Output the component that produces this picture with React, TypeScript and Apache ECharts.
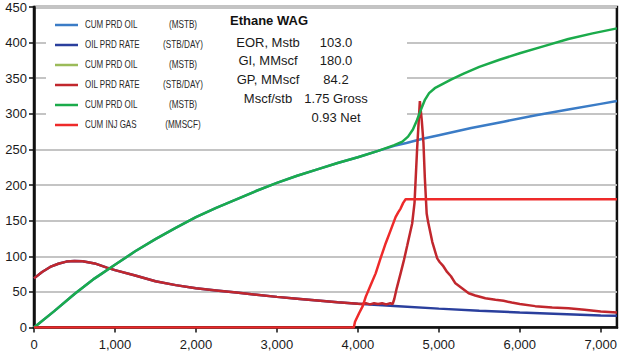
import React, { useEffect, useRef } from "react";
import * as echarts from "echarts";

type Pt = [number, number];

// Base case cumulative oil (MSTB) vs days
const cumOilBase: Pt[] = [
  [0, 0], [250, 23], [500, 47], [750, 69], [1000, 88], [1250, 107], [1500, 124], [1750, 140],
  [2000, 155], [2250, 168], [2500, 180], [2750, 192], [3000, 203], [3250, 213], [3500, 222],
  [3750, 231], [4000, 239], [4250, 248], [4450, 255], [4600, 259], [4800, 265], [5000, 270],
  [5400, 280], [5800, 289], [6200, 298], [6600, 306], [7000, 314], [7200, 318],
];

// Base case oil rate (STB/DAY)
const oilRateBase: Pt[] = [
  [0, 69], [100, 78], [200, 85], [300, 89.5], [400, 92.5], [500, 93.5], [600, 93], [750, 90],
  [900, 84], [1000, 80.5], [1250, 73], [1500, 65], [1750, 59.5], [2000, 55], [2250, 52],
  [2500, 49], [2750, 46], [3000, 43], [3250, 40.5], [3500, 38], [3750, 35.5], [4000, 33.5],
  [4500, 30], [5000, 26.5], [5500, 23.5], [6000, 21], [6500, 19], [7000, 17], [7200, 16.5],
];

// Hidden (overlapped) cumulative oil case
const cumOilAlt: Pt[] = [];

// Ethane WAG oil rate (STB/DAY)
const oilRateWag: Pt[] = [
  [0, 69], [100, 78], [200, 85], [300, 89.5], [400, 92.5], [500, 93.5], [600, 93], [750, 90],
  [900, 84], [1000, 80.5], [1250, 73], [1500, 65], [1750, 59.5], [2000, 55], [2250, 52],
  [2500, 49], [2750, 46], [3000, 43], [3250, 40.5], [3500, 38], [3750, 35.5], [4000, 33.5],
  [4050, 33], [4100, 34], [4150, 32.5], [4200, 34], [4250, 33], [4300, 34], [4350, 32.5],
  [4400, 34], [4430, 33], [4450, 40], [4480, 55], [4528, 76], [4570, 95], [4610, 115],
  [4671, 146], [4700, 175], [4733, 253], [4766, 318], [4790, 290], [4810, 260], [4827, 211],
  [4850, 160], [4868, 148], [4920, 120], [4980, 97], [5010, 92], [5050, 87], [5102, 78],
  [5150, 72], [5205, 62], [5287, 55], [5369, 48], [5450, 45], [5575, 41], [5700, 39],
  [5800, 37.5], [5900, 35], [6000, 33], [6191, 30], [6400, 28], [6601, 27], [6800, 25],
  [7000, 22.5], [7200, 21],
];

// Ethane WAG cumulative oil (MSTB)
const cumOilWag: Pt[] = [
  [0, 0], [250, 23], [500, 47], [750, 69], [1000, 88], [1250, 107], [1500, 124], [1750, 140],
  [2000, 155], [2250, 168], [2500, 180], [2750, 192], [3000, 203], [3250, 213], [3500, 222],
  [3750, 231], [4000, 239], [4250, 248], [4450, 256], [4550, 261], [4620, 268], [4680, 278],
  [4730, 291], [4780, 306], [4830, 320], [4880, 329], [4950, 336], [5050, 342], [5150, 348],
  [5300, 356], [5500, 366], [5750, 376], [6000, 385], [6300, 395], [6600, 405], [6900, 413],
  [7200, 420],
];

// Cumulative injected gas (MMSCF)
const cumInjGas: Pt[] = [
  [0, 0], [3950, 0], [3965, 8], [4015, 20], [4060, 30], [4097, 43], [4160, 60], [4220, 76],
  [4280, 97], [4343, 118], [4400, 135], [4466, 155], [4500, 162], [4528, 167], [4560, 175],
  [4590, 180], [7200, 180],
];

const seriesNames = ["CUM PRD OIL", "OIL PRD RATE", "CUM PRD OIL", "OIL PRD RATE", "CUM PRD OIL", "CUM INJ GAS"];
const seriesUnits = ["(MSTB)", "(STB/DAY)", "(MSTB)", "(STB/DAY)", "(MSTB)", "(MMSCF)"];
const seriesColors = ["#3b7cc6", "#2a3f9d", "#9bbb59", "#c1272d", "#1bab4b", "#ee2a2a"];
const seriesData = [cumOilBase, oilRateBase, cumOilAlt, oilRateWag, cumOilWag, cumInjGas];

const xTicks = [0, 7200, 1000];
const yTicks = [0, 450, 50];

const summaryTitle = "Ethane WAG";
const summaryLabels = ["EOR, Mstb", "GI, MMscf", "GP, MMscf", "Mscf/stb", ""];
const summaryValues = ["103.0", "180.0", "84.2", "1.75 Gross", "0.93 Net"];

const FONT = '"Liberation Sans", Arial, Helvetica, sans-serif';

export default function App() {
  const ref = useRef<HTMLDivElement>(null);

  useEffect(() => {
    if (!ref.current) return;
    const chart = echarts.init(ref.current, undefined, { renderer: "svg" });

    const graphics: any[] = [
      { type: "rect", z: 1, shape: { x: 46, y: 9, width: 361, height: 121 }, style: { fill: "#ffffff" } },
    ];
    seriesNames.forEach((name, i) => {
      const y = 25 + i * 20;
      graphics.push({
        type: "line", z: 5,
        shape: { x1: 55, y1: y, x2: 78, y2: y },
        style: { stroke: seriesColors[i], lineWidth: 2.5 },
      });
      graphics.push({
        type: "text", z: 5, x: 85, y, scaleX: 0.8,
        style: { text: name, fill: "#2a2a2a", font: `10px ${FONT}`, textVerticalAlign: "middle", textAlign: "left" },
      });
      graphics.push({
        type: "text", z: 5, x: 183, y, scaleX: 0.82,
        style: { text: seriesUnits[i], fill: "#2a2a2a", font: `10px ${FONT}`, textVerticalAlign: "middle", textAlign: "center" },
      });
    });
    graphics.push({
      type: "text", z: 5, x: 230, y: 20,
      style: { text: summaryTitle, fill: "#111", font: `bold 13px ${FONT}`, textVerticalAlign: "middle", textAlign: "left" },
    });
    const rowsY = [42, 60.5, 79, 98, 117];
    summaryLabels.forEach((lab, i) => {
      if (lab) {
        graphics.push({
          type: "text", z: 5, x: 268, y: rowsY[i],
          style: { text: lab, fill: "#1a1a1a", font: `13px ${FONT}`, textVerticalAlign: "middle", textAlign: "center" },
        });
      }
      graphics.push({
        type: "text", z: 5, x: 336, y: rowsY[i],
        style: { text: summaryValues[i], fill: "#1a1a1a", font: `13px ${FONT}`, textVerticalAlign: "middle", textAlign: "center" },
      });
    });

    chart.setOption({
      animation: false,
      backgroundColor: "#ffffff",
      grid: {
        left: 34, top: 7, right: 3, bottom: 26.5,
        show: true, borderColor: "#111", borderWidth: 2.5, backgroundColor: "transparent",
      },
      xAxis: {
        type: "value",
        min: xTicks[0], max: xTicks[1], interval: xTicks[2],
        axisLine: { show: true, lineStyle: { color: "#111", width: 2.5 } },
        axisTick: { show: true, length: 5, lineStyle: { color: "#111", width: 1.5 } },
        splitLine: { show: false },
        axisLabel: {
          showMaxLabel: false, margin: 10, color: "#1a1a1a", fontSize: 13, fontFamily: FONT,
          formatter: (v: number) => v.toLocaleString("en-US"),
        },
      },
      yAxis: {
        type: "value",
        min: yTicks[0], max: yTicks[1], interval: yTicks[2],
        axisLine: { show: true, lineStyle: { color: "#111", width: 2.5 } },
        axisTick: { show: true, length: 5, lineStyle: { color: "#111", width: 1.5 } },
        splitLine: { show: true, lineStyle: { color: "#c4c4c4", width: 2 } },
        axisLabel: { margin: 7, color: "#1a1a1a", fontSize: 13, fontFamily: FONT },
      },
      graphic: graphics,
      series: seriesData.map((d, i) => ({
        name: seriesNames[i],
        type: "line",
        data: d,
        symbol: "none",
        showSymbol: false,
        color: seriesColors[i],
        lineStyle: { color: seriesColors[i], width: 2.5 },
        z: 2 + i * 0.1,
      })),
    });

    return () => chart.dispose();
  }, []);

  return (
    <div
      ref={ref}
      style={{ position: "fixed", left: 0, top: 0, width: 620, height: 354, background: "#fff" }}
    />
  );
}
